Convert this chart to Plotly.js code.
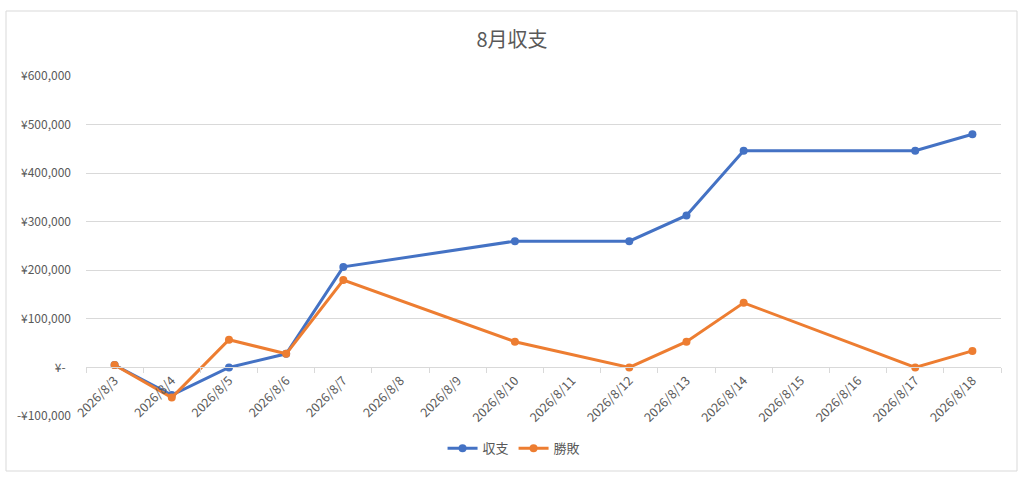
<!DOCTYPE html>
<html>
<head>
<meta charset="utf-8">
<script src="https://cdn.plot.ly/plotly-3.0.1.min.js"></script>
<style>html,body{margin:0;padding:0;background:#fff;}#chart{width:1024px;height:481px;}</style>
</head>
<body>
<div id="chart"></div>
<script>
// Axis categories (every day shown on the date axis)
const allDays = ['2026/8/3','2026/8/4','2026/8/5','2026/8/6','2026/8/7','2026/8/8','2026/8/9','2026/8/10',
                 '2026/8/11','2026/8/12','2026/8/13','2026/8/14','2026/8/15','2026/8/16','2026/8/17','2026/8/18'];
// Dates that have data
const dates = ['2026/8/3','2026/8/4','2026/8/5','2026/8/6','2026/8/7','2026/8/10','2026/8/12','2026/8/13','2026/8/14','2026/8/17','2026/8/18'];
// Series values
const shushi  = [5000, -57000, 0, 28000, 207000, 260000, 260000, 313000, 446000, 446000, 480000];
const shouhai = [5000, -62000, 57000, 28000, 180000, 53000, 0, 53000, 133000, 0, 34000];
// Y tick values / labels
const yTickVals = [-100000, 0, 100000, 200000, 300000, 400000, 500000, 600000];
const yTickText = ['-¥100,000', '¥-\u00a0\u00a0', '¥100,000', '¥200,000', '¥300,000', '¥400,000', '¥500,000', '¥600,000'];

const FONT = '"Noto Sans CJK JP", "Noto Sans", sans-serif';
const GREY = '#595959';
const GRID = '#D9D9D9';

const traces = [
  {x: dates, y: shushi, name: '収支', type: 'scatter', mode: 'lines+markers',
   line: {color: '#4472C4', width: 3}, marker: {color: '#4472C4', size: 8}},
  {x: dates, y: shouhai, name: '勝敗', type: 'scatter', mode: 'lines+markers',
   line: {color: '#ED7D31', width: 3}, marker: {color: '#ED7D31', size: 8}}
];

const layout = {
  width: 1024, height: 481,
  margin: {l: 86, r: 23, t: 76, b: 65, autoexpand: false},
  paper_bgcolor: '#fff', plot_bgcolor: '#fff',
  font: {family: FONT, color: GREY, size: 12},
  title: {text: '8月収支', font: {family: FONT, size: 20, color: GREY},
          x: 0.5, xref: 'container', xanchor: 'center', y: 1 - 40/481, yref: 'container', yanchor: 'middle'},
  showlegend: true,
  legend: {orientation: 'h', x: 0.502, xref: 'container', xanchor: 'center',
           y: -0.095, yanchor: 'middle', font: {family: FONT, size: 13, color: GREY},
           traceorder: 'normal', itemwidth: 30},
  xaxis: {type: 'category', categoryorder: 'array', categoryarray: allDays,
          range: [-0.5, allDays.length - 0.5], anchor: 'free', position: 1/7,
          showgrid: false, zeroline: false, showline: true, linecolor: GRID, linewidth: 1,
          ticks: 'outside', tickson: 'boundaries', ticklen: 5, tickcolor: GRID,
          tickangle: -45, tickfont: {family: FONT, size: 12.5, color: GREY}, fixedrange: true},
  yaxis: {range: [-100000, 600000], tickmode: 'array', tickvals: yTickVals, ticktext: yTickText,
          showgrid: true, gridcolor: GRID, gridwidth: 1, zeroline: false, showline: false,
          ticks: '', ticklabelstandoff: 14, tickfont: {family: FONT, size: 12, color: GREY}, fixedrange: true},
  shapes: [{type: 'rect', xref: 'paper', yref: 'paper',
            x0: (6-86)/915, x1: (1017-86)/915, y0: (416-471)/340, y1: (416-11)/340,
            line: {color: GRID, width: 1}, fillcolor: 'rgba(0,0,0,0)', layer: 'below'}]
};

Plotly.newPlot('chart', traces, layout, {displayModeBar: false, staticPlot: true});
</script>
</body>
</html>
